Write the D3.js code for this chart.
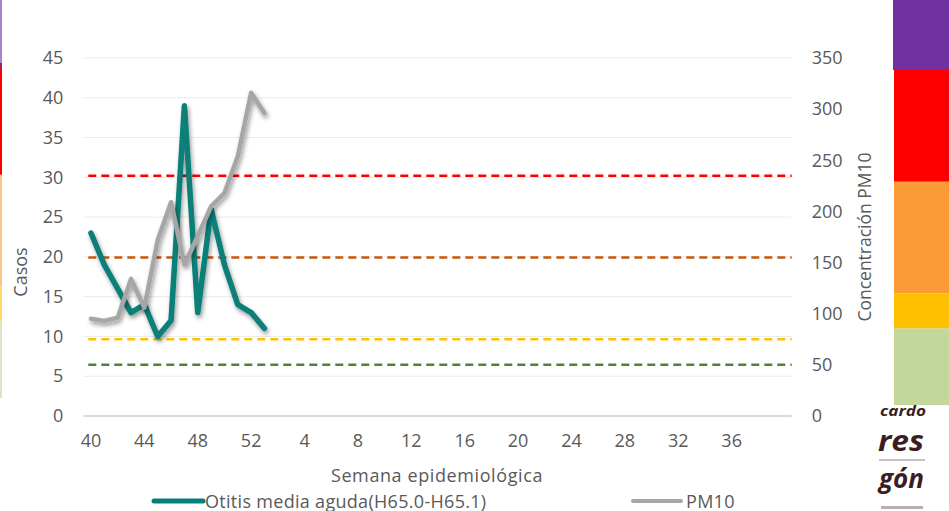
<!DOCTYPE html>
<html>
<head>
<meta charset="utf-8">
<script src="https://cdn.jsdelivr.net/npm/d3@7"></script>
<style>
body { margin: 0; background: #fff; }
text { font-family: "Open Sans", sans-serif; fill: #595959; }
</style>
</head>
<body>
<div id="chart"></div>
<script>
// Data
var weeks        = [40,41,42,43,44,45,46,47,48,49,50,51,52,
                    1,2,3,4,5,6,7,8,9,10,11,12,13,14,15,16,17,18,19,20,
                    21,22,23,24,25,26,27,28,29,30,31,32,33,34,35,36,37,38,39,40];
var tick_weeks   = [40,44,48,52,4,8,12,16,20,24,28,32,36];
var otitis       = [23,19,16,13,14,10,12,39,13,26,19,14,13,11];
var pm10         = [95,93,96,134,106,172,209,148,176,205,218,254,316,296];
var left_ticks   = [0,5,10,15,20,25,30,35,40,45];
var right_ticks  = [0,50,100,150,200,250,300,350];
var limits       = [50,75,155,235];
var limit_colors = ['#548235','#ffc000','#c55a11','#ff0000'];
var band_edges   = [-5,50,75,155,235,290];
var band_colors  = ['#c4d79b','#ffc000','#fd9a38','#ff0000','#7030a0'];

// Width and height
var chart_width  = 949;
var chart_height = 511;
var plot = {left: 84.3, right: 791.7, top: 58, bottom: 416};
var fsize = 18;

var svg = d3.select('#chart')
	.append('svg')
	.attr('width', chart_width)
	.attr('height', chart_height);

var defs = svg.append('defs');
defs.append('filter')
	.attr('id', 'shadow')
	.attr('x', '-10%').attr('y', '-10%')
	.attr('width', '130%').attr('height', '130%')
	.append('feDropShadow')
	.attr('dx', 1.5)
	.attr('dy', 3)
	.attr('stdDeviation', 2)
	.attr('flood-color', '#000')
	.attr('flood-opacity', 0.4);

// Scales
var x = d3.scaleBand()
	.domain(weeks.map((d, i) => i))
	.range([plot.left, plot.right]);

var y_left = d3.scaleLinear()
	.domain([0, 45])
	.range([plot.bottom, plot.top]);

var y_right = d3.scaleLinear()
	.domain([0, 350])
	.range([plot.bottom, plot.top]);

var y_band = d3.scaleLinear()
	.domain([-5, 235])
	.range([405, 70]);

var cx = (i) => x(i) + x.bandwidth()/2;

// Colour bar at the right and the thin strip at the left edge
var bands = svg.append('g');
band_colors.forEach((c, i) => {
	var top = Math.max(0, y_band(band_edges[i+1]));
	var bot = y_band(band_edges[i]);
	bands.append('rect')
		.attr('x', i == 4 ? 893 : 894)
		.attr('y', top)
		.attr('width', 56)
		.attr('height', bot - top)
		.attr('fill', c);
	bands.append('rect')
		.attr('x', 0)
		.attr('y', Math.max(0, top - 7))
		.attr('width', 2)
		.attr('height', bot - top)
		.attr('fill', c)
		.attr('opacity', i == 3 ? 1 : 0.6);
});

// Grid lines
svg.append('g')
	.selectAll('line')
	.data(left_ticks.filter((d) => d > 0))
	.enter()
	.append('line')
	.attr('x1', plot.left - 1)
	.attr('x2', plot.right)
	.attr('y1', (d) => y_left(d))
	.attr('y2', (d) => y_left(d))
	.attr('stroke', '#ebebeb')
	.attr('stroke-width', 1);

svg.append('line')
	.attr('x1', plot.left - 1)
	.attr('x2', plot.right)
	.attr('y1', plot.bottom)
	.attr('y2', plot.bottom)
	.attr('stroke', '#d9d9d9')
	.attr('stroke-width', 2);

function style_ticks(g){
	g.select('.domain').remove();
	g.selectAll('text')
		.attr('font-size', fsize)
		.style('font-family', '"Open Sans", sans-serif')
		.attr('fill', '#595959');
}

// Left axis
svg.append('g')
	.attr('transform', 'translate(' + (plot.left - 7) + ',0)')
	.call(d3.axisLeft(y_left).tickValues(left_ticks).tickSize(0).tickPadding(14))
	.call(style_ticks);

// Right axis
svg.append('g')
	.attr('transform', 'translate(' + plot.right + ',0)')
	.call(d3.axisRight(y_right).tickValues(right_ticks).tickSize(0).tickPadding(20))
	.call(style_ticks);

// Bottom axis
var tick_index = [];
var ti = 0;
weeks.forEach((w, i) => {
	if(ti < tick_weeks.length && w === tick_weeks[ti]){
		tick_index.push(i);
		ti++;
	}
});
svg.append('g')
	.attr('transform', 'translate(0,' + plot.bottom + ')')
	.call(d3.axisBottom(x)
		.tickValues(tick_index)
		.tickFormat((i) => weeks[i])
		.tickSize(0)
		.tickPadding(18))
	.call(style_ticks);

// Threshold lines
svg.append('g')
	.selectAll('line')
	.data(limits)
	.enter()
	.append('line')
	.attr('x1', plot.left + 4)
	.attr('x2', plot.right)
	.attr('y1', (d) => y_right(d))
	.attr('y2', (d) => y_right(d))
	.attr('stroke', (d, i) => limit_colors[i])
	.attr('stroke-width', 2.5)
	.attr('stroke-dasharray', '8,5');

// Series
var line_left = d3.line()
	.x((d, i) => cx(i))
	.y((d) => y_left(d));

var line_right = d3.line()
	.x((d, i) => cx(i))
	.y((d) => y_right(d));

svg.append('path')
	.datum(otitis)
	.attr('d', line_left)
	.attr('fill', 'none')
	.attr('stroke', '#077f79')
	.attr('stroke-width', 5.5)
	.attr('stroke-linejoin', 'round')
	.attr('stroke-linecap', 'round')
	.attr('filter', 'url(#shadow)');

svg.append('path')
	.datum(pm10)
	.attr('d', line_right)
	.attr('fill', 'none')
	.attr('stroke', '#a6a6a6')
	.attr('stroke-width', 4.5)
	.attr('stroke-linejoin', 'round')
	.attr('stroke-linecap', 'round')
	.attr('filter', 'url(#shadow)');

// Axis titles
svg.append('text')
	.text('Casos')
	.attr('transform', 'translate(27,272) rotate(-90)')
	.attr('text-anchor', 'middle')
	.attr('font-size', fsize);

svg.append('text')
	.text('Concentración PM10')
	.attr('transform', 'translate(871,237) rotate(-90)')
	.attr('text-anchor', 'middle')
	.attr('font-size', 17.5);

svg.append('text')
	.text('Semana epidemiológica')
	.attr('x', 437)
	.attr('y', 482)
	.attr('text-anchor', 'middle')
	.attr('font-size', fsize)
	.attr('letter-spacing', 0.6);

// Legend
var legend = svg.append('g');
legend.append('line')
	.attr('x1', 154).attr('x2', 203)
	.attr('y1', 501).attr('y2', 501)
	.attr('stroke', '#077f79')
	.attr('stroke-width', 5)
	.attr('stroke-linecap', 'round');
legend.append('text')
	.text('Otitis media aguda(H65.0-H65.1)')
	.attr('x', 205)
	.attr('y', 507.5)
	.attr('font-size', fsize)
	.attr('letter-spacing', 0.3);
legend.append('line')
	.attr('x1', 633).attr('x2', 681)
	.attr('y1', 501).attr('y2', 501)
	.attr('stroke', '#a6a6a6')
	.attr('stroke-width', 4)
	.attr('stroke-linecap', 'round');
legend.append('text')
	.text('PM10')
	.attr('x', 686)
	.attr('y', 507.5)
	.attr('font-size', fsize)
	.attr('letter-spacing', 0.3);

// Logo fragment at the bottom right (tall condensed lettering)
var logo = svg.append('g')
	.style('font-family', '"DejaVu Serif Condensed", "DejaVu Serif", serif')
	.style('font-style', 'italic')
	.style('font-weight', 'bold');
logo.append('text')
	.text('cardo')
	.attr('transform', 'translate(880,416) scale(1,1.3)')
	.attr('font-size', 11)
	.attr('textLength', 46)
	.attr('lengthAdjust', 'spacingAndGlyphs')
	.style('fill', '#3b1e24');
logo.append('text')
	.text('res')
	.attr('transform', 'translate(878,451) scale(1,1.47)')
	.attr('font-size', 19)
	.attr('textLength', 46)
	.attr('lengthAdjust', 'spacingAndGlyphs')
	.style('fill', '#3b1e24');
logo.append('line')
	.attr('x1', 879).attr('x2', 925)
	.attr('y1', 460).attr('y2', 460)
	.attr('stroke', '#6a5055')
	.attr('stroke-width', 0.7);
logo.append('text')
	.text('gón')
	.attr('transform', 'translate(879,488) scale(1,1.45)')
	.attr('font-size', 18)
	.attr('textLength', 45)
	.attr('lengthAdjust', 'spacingAndGlyphs')
	.style('fill', '#3b1e24');
logo.append('rect')
	.attr('x', 881).attr('y', 506)
	.attr('width', 42).attr('height', 3)
	.attr('fill', '#8a7a7d')
	.attr('opacity', 0.6);
</script>
</body>
</html>
